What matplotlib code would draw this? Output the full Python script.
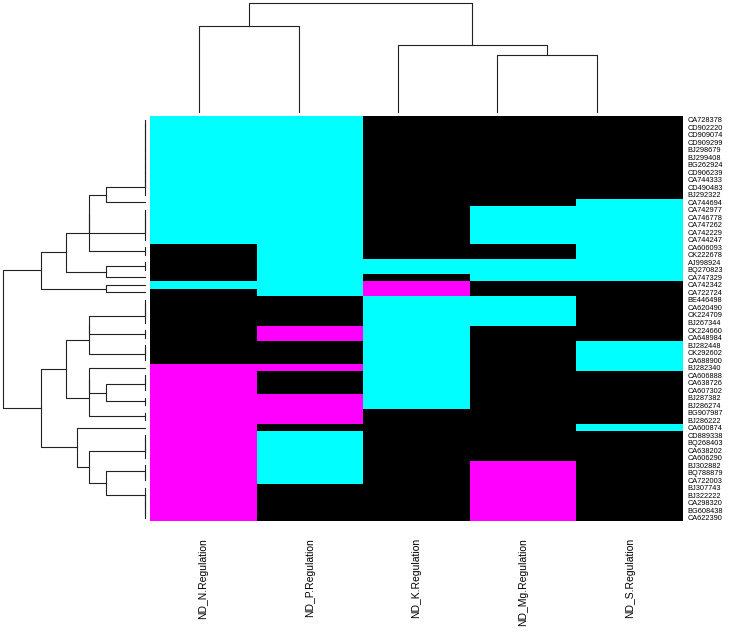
import numpy as np
import matplotlib.pyplot as plt
from matplotlib.colors import ListedColormap

# Gene ids (rows, top to bottom) and conditions (columns)
genes = ['CA728378', 'CD902220', 'CD909074', 'CD909299', 'BJ298679', 'BJ299408',
         'BG262924', 'CD906239', 'CA744333', 'CD490483', 'BJ292322', 'CA744694',
         'CA742977', 'CA746778', 'CA747262', 'CA742229', 'CA744247', 'CA606093',
         'CK222678', 'AJ998924', 'BQ270823', 'CA747329', 'CA742342', 'CA722724',
         'BE446498', 'CA620490', 'CK224709', 'BJ267344', 'CK224660', 'CA648984',
         'BJ282448', 'CK292602', 'CA688900', 'BJ282340', 'CA606888', 'CA638726',
         'CA607302', 'BJ287382', 'BJ286274', 'BG907987', 'BJ286222', 'CA600874',
         'CD889338', 'BQ268403', 'CA638202', 'CA606290', 'BJ302882', 'BQ788879',
         'CA722003', 'BJ307743', 'BJ322222', 'CA298320', 'BG608438', 'CA622390']
conditions = ['ND_N.Regulation', 'ND_P.Regulation', 'ND_K.Regulation',
              'ND_Mg.Regulation', 'ND_S.Regulation']

# 1 = up (cyan), 0 = no change (black), -1 = down (magenta)
nd_n = [1, 1, 1, 1, 1, 1, 1, 1, 1, 1, 1, 1, 1, 1, 1, 1, 1, 0,
        0, 0, 0, 0, 1, 0, 0, 0, 0, 0, 0, 0, 0, 0, 0, -1, -1, -1,
        -1, -1, -1, -1, -1, -1, -1, -1, -1, -1, -1, -1, -1, -1, -1, -1, -1, -1]
nd_p = [1, 1, 1, 1, 1, 1, 1, 1, 1, 1, 1, 1, 1, 1, 1, 1, 1, 1,
        1, 1, 1, 1, 1, 1, 0, 0, 0, 0, -1, -1, 0, 0, 0, -1, 0, 0,
        0, -1, -1, -1, -1, 0, 1, 1, 1, 1, 1, 1, 1, 0, 0, 0, 0, 0]
nd_k = [0, 0, 0, 0, 0, 0, 0, 0, 0, 0, 0, 0, 0, 0, 0, 0, 0, 0,
        0, 1, 1, 0, -1, -1, 1, 1, 1, 1, 1, 1, 1, 1, 1, 1, 1, 1,
        1, 1, 1, 0, 0, 0, 0, 0, 0, 0, 0, 0, 0, 0, 0, 0, 0, 0]
nd_mg = [0, 0, 0, 0, 0, 0, 0, 0, 0, 0, 0, 0, 1, 1, 1, 1, 1, 0,
         0, 1, 1, 1, 0, 0, 1, 1, 1, 1, 0, 0, 0, 0, 0, 0, 0, 0,
         0, 0, 0, 0, 0, 0, 0, 0, 0, 0, -1, -1, -1, -1, -1, -1, -1, -1]
nd_s = [0, 0, 0, 0, 0, 0, 0, 0, 0, 0, 0, 1, 1, 1, 1, 1, 1, 1,
        1, 1, 1, 1, 0, 0, 0, 0, 0, 0, 0, 0, 1, 1, 1, 1, 0, 0,
        0, 0, 0, 0, 0, 1, 0, 0, 0, 0, 0, 0, 0, 0, 0, 0, 0, 0]


def chain(leaves):
    # identical rows joined one after another at height 0
    leaves = list(leaves)
    t = leaves[0]
    for l in leaves[1:]:
        t = (t, l)
    return t


def rchain(leaves):
    leaves = list(leaves)
    t = leaves[-1]
    for l in reversed(leaves[:-1]):
        t = (l, t)
    return t


# Row clustering tree (merge order), heights come from the data
top_a = (((chain(range(0, 11)), 11), chain(range(12, 17))), (17, 18))
top_b = (((top_a, ((19, 20), 21)), (22, 23)))
mid_a = ((chain(range(24, 28)), (28, 29)), chain(range(30, 33)))
mid_b = ((33, (chain(range(34, 37)), (37, 38))), (39, 40))
low = (41, (chain(range(42, 46)), (rchain(range(46, 49)), rchain(range(49, 54)))))
row_tree = (top_b, ((mid_a, mid_b), low))
col_tree = ((0, 1), (2, (3, 4)))


def leaves_of(t):
    if isinstance(t, int):
        return [t]
    return leaves_of(t[0]) + leaves_of(t[1])


def dendro_segments(t, X):
    # complete linkage, euclidean distance
    segs = []

    def walk(node):
        if isinstance(node, int):
            return float(node), 0.0
        p1, h1 = walk(node[0])
        p2, h2 = walk(node[1])
        a = X[leaves_of(node[0])]
        b = X[leaves_of(node[1])]
        h = np.sqrt(((a[:, None, :] - b[None, :, :]) ** 2).sum(-1)).max()
        segs.append(([h1, h, h, h2], [p1, p1, p2, p2]))
        return (p1 + p2) / 2, h

    _, hmax = walk(t)
    return segs, hmax


mat = np.array([nd_n, nd_p, nd_k, nd_mg, nd_s]).T
n_rows, n_cols = mat.shape

W, H = 737, 634
fig = plt.figure(figsize=(W / 100, H / 100), dpi=100)
plt.rcParams['font.family'] = ['Liberation Sans', 'DejaVu Sans']


def px_axes(x0, y0, x1, y1):
    return fig.add_axes([x0 / W, 1 - y1 / H, (x1 - x0) / W, (y1 - y0) / H])


# Heatmap
ax = px_axes(150, 116, 683, 521.5)
cmap = ListedColormap(['#FF00FF', '#000000', '#00FFFF'])
ax.pcolormesh(np.arange(n_cols + 1) - 0.5, np.arange(n_rows + 1) - 0.5, mat,
              cmap=cmap, vmin=-1.5, vmax=1.5, antialiased=False)
ax.set_xlim(-0.5, n_cols - 0.5)
ax.set_ylim(n_rows - 0.5, -0.5)
ax.yaxis.tick_right()
ax.set_yticks(range(n_rows))
ax.set_yticklabels(genes, fontsize=5.3)
ax.set_xticks(range(n_cols))
ax.set_xticklabels(conditions, rotation=90, fontsize=7.5, va='top')
ax.tick_params(length=0)
ax.tick_params(axis='y', pad=3.5)
ax.tick_params(axis='x', pad=12)
for s in ax.spines.values():
    s.set_visible(False)

# Row dendrogram
segs, hmax = dendro_segments(row_tree, mat)
axr = px_axes(2.7, 116, 145, 521.5)
for xs, ys in segs:
    axr.plot(xs, ys, color='#222222', lw=0.8, clip_on=False)
axr.set_xlim(hmax, 0)
axr.set_ylim(n_rows - 0.5, -0.5)
axr.axis('off')

# Column dendrogram
segs, hmax = dendro_segments(col_tree, mat.T)
axc = px_axes(149.7, 3, 646.2, 112)
for hs, ps in segs:
    axc.plot(ps, hs, color='#222222', lw=0.8, clip_on=False)
axc.set_xlim(-0.5, n_cols - 0.5)
axc.set_ylim(0, hmax)
axc.axis('off')

fig.savefig('out.png', dpi=100)
